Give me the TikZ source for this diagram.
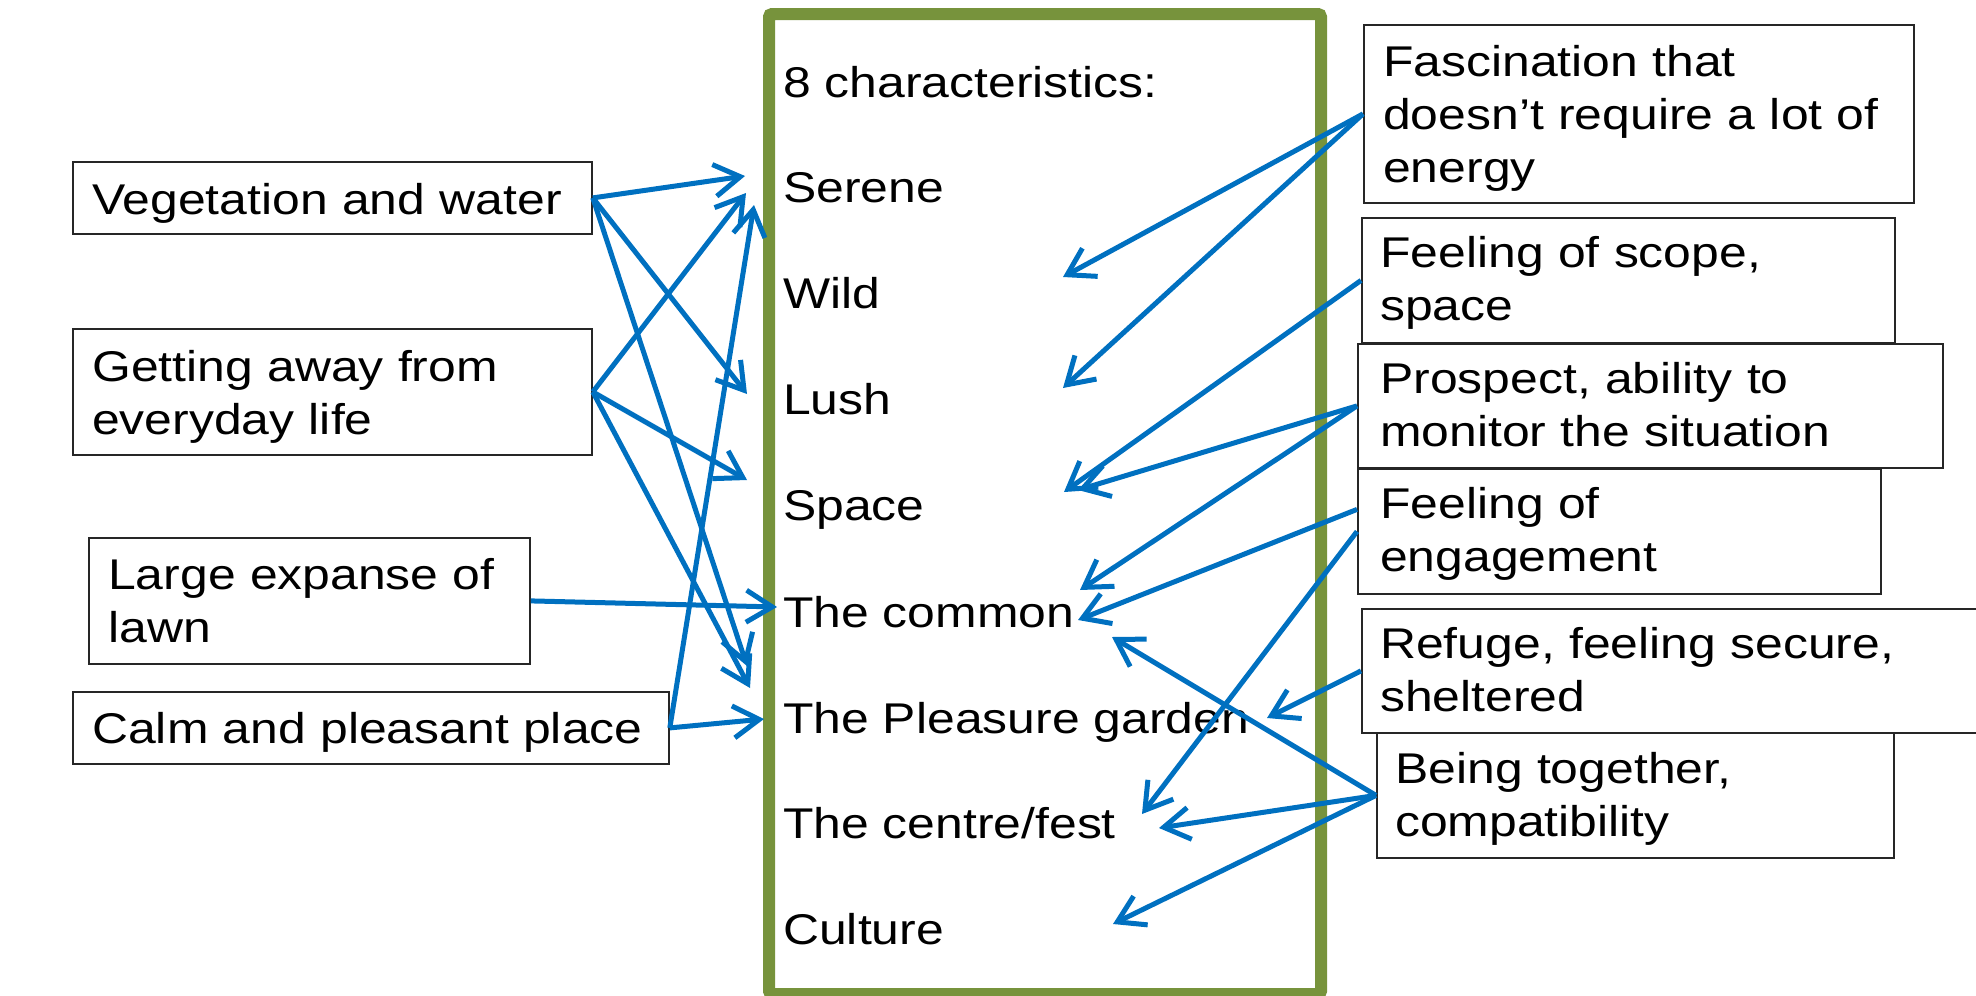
\documentclass[tikz,border=0pt]{standalone}
\usepackage{fontspec}
\setmainfont{Liberation Sans}[FakeStretch=1.16]
\usetikzlibrary{arrows.meta,calc}
\definecolor{frameGreen}{RGB}{119,147,60}
\definecolor{linkBlue}{RGB}{0,112,192}
\begin{document}
\begin{tikzpicture}[x=1pt,y=-1pt,
  every node/.style={inner sep=0pt, font=\fontsize{43}{53}\selectfont},
  box/.style={draw=black!85, line width=1.8pt, fill=white, anchor=north west},
  boxtext/.style={anchor=base west, text width=560pt, align=left},
  charitem/.style={anchor=base west},
  panel/.style={draw=frameGreen, line width=12pt, anchor=north west, rounded corners=3pt},
  linkarrow/.style={draw=linkBlue, line width=5pt, -{Straight Barb[length=26pt,width=32pt]}}]
\useasboundingbox (0,0) rectangle (1976,996);
\clip (0,0) rectangle (1976,996);

% central panel with the eight characteristics
\node[panel, minimum width=552pt, minimum height=980pt] (frame) at (763,8) {};
\node[charitem] (c0) at (783,97) {8 characteristics:};
\node[charitem] (c1) at (783,202) {Serene};
\node[charitem] (c2) at (783,308) {Wild};
\node[charitem] (c3) at (783,414) {Lush};
\node[charitem] (c4) at (783,520) {Space};
\node[charitem] (c5) at (783,627) {The common};
\node[charitem] (c6) at (783,733) {The Pleasure garden};
\node[charitem] (c7) at (783,838) {The centre/fest};
\node[charitem] (c8) at (783,944) {Culture};

% left-hand factors
\node[box, minimum width=519pt, minimum height=72pt] (veg) at (72,161) {};
\node[boxtext] (vegT) at (92,214) {Vegetation and water};
\node[box, minimum width=519pt, minimum height=126pt] (getting) at (72,328) {};
\node[boxtext] (gettingT) at (92,381) {Getting away from\\everyday life};
\node[box, minimum width=441pt, minimum height=126pt] (large) at (88,537) {};
\node[boxtext] (largeT) at (108,589) {Large expanse of\\lawn};
\node[box, minimum width=596pt, minimum height=72pt] (calm) at (72,691) {};
\node[boxtext] (calmT) at (92,743) {Calm and pleasant place};

% right-hand qualities
\node[box, minimum width=550pt, minimum height=178pt] (fasc) at (1363,24) {};
\node[boxtext] (fascT) at (1383,76) {Fascination that\\doesn’t require a lot of\\energy};
\node[box, minimum width=533pt, minimum height=125pt] (scope) at (1361,217) {};
\node[boxtext] (scopeT) at (1380,267) {Feeling of scope,\\space};
\node[box, minimum width=585pt, minimum height=124pt] (prospect) at (1357,343) {};
\node[boxtext] (prospectT) at (1380,393) {Prospect, ability to\\monitor the situation};
\node[box, minimum width=523pt, minimum height=125pt] (engage) at (1357,468) {};
\node[boxtext] (engageT) at (1380,518) {Feeling of\\engagement};
\node[box, minimum width=660pt, minimum height=124pt] (refuge) at (1361,608) {};
\node[boxtext] (refugeT) at (1380,658) {Refuge, feeling secure,\\sheltered};
\node[box, minimum width=517pt, minimum height=125pt] (being) at (1376,732) {};
\node[boxtext] (beingT) at (1395,783) {Being together,\\compatibility};

% arrow tips beside the characteristics
\coordinate (tSerA) at (745,176);
\coordinate (tSerB) at (746,193);
\coordinate (tSerC) at (754,205);
\coordinate (tLushL) at (747,394);
\coordinate (tSpaceL) at (747,480);
\coordinate (tComL) at (777,607);
\coordinate (tPgA) at (747,666);
\coordinate (tPgB) at (750,688);
\coordinate (tPgC) at (764,719);

\coordinate (tWild) at (1063,277);
\coordinate (tLushR) at (1063,388);
\coordinate (tSpaceR1) at (1064,492);
\coordinate (tSpaceR2) at (1078,490);
\coordinate (tComR1) at (1080,590);
\coordinate (tComR2) at (1078,620);
\coordinate (tComR3) at (1112,637);
\coordinate (tPgR) at (1267,718);
\coordinate (tCentreR1) at (1142,814);
\coordinate (tCentreR2) at (1159,828);
\coordinate (tCulture) at (1113,924);

% links from the left
\draw[linkarrow] (veg.east) -- (tSerA);
\draw[linkarrow] (veg.east) -- (tLushL);
\draw[linkarrow] (veg.east) -- (tPgA);
\draw[linkarrow] (getting.east) -- (tSerB);
\draw[linkarrow] (getting.east) -- (tSpaceL);
\draw[linkarrow] (getting.east) -- (tPgB);
\draw[linkarrow] (large.east) -- (tComL);
\draw[linkarrow] (calm.east) -- (tSerC);
\draw[linkarrow] (calm.east) -- (tPgC);

% links from the right
\draw[linkarrow] (fasc.west) -- (tWild);
\draw[linkarrow] (fasc.west) -- (tLushR);
\draw[linkarrow] (scope.west) -- (tSpaceR1);
\draw[linkarrow] (prospect.west) -- (tSpaceR2);
\draw[linkarrow] (prospect.west) -- (tComR1);
\draw[linkarrow] ([yshift=22pt]engage.west) -- (tComR2);
\draw[linkarrow] (engage.west) -- (tCentreR1);
\draw[linkarrow] (refuge.west) -- (tPgR);
\draw[linkarrow] (being.west) -- (tComR3);
\draw[linkarrow] (being.west) -- (tCentreR2);
\draw[linkarrow] (being.west) -- (tCulture);
\end{tikzpicture}
\end{document}
